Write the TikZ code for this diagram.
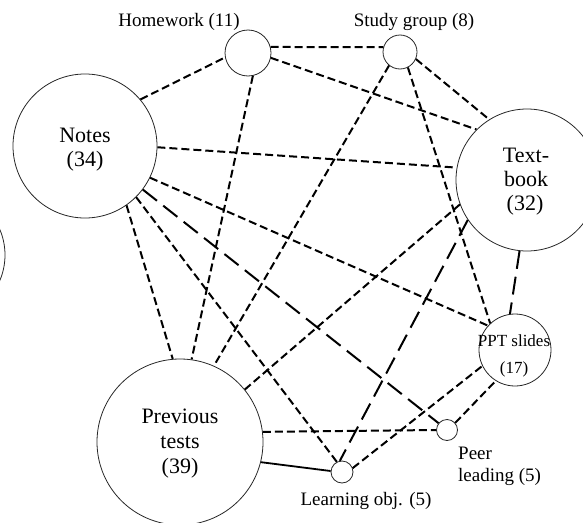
\documentclass[tikz,border=0pt]{standalone}
\usepackage{fontspec}
\setmainfont{Liberation Serif}
\begin{document}
\begin{tikzpicture}[x=1pt,y=-1pt,
  circ/.style={circle,draw=black!85,line width=0.8pt,inner sep=0pt},
  big/.style={font=\fontsize{22}{24.5}\selectfont,inner sep=0pt,anchor=base},
  sd/.style={line width=2pt,dash pattern=on 8pt off 4pt},
  ld/.style={line width=2pt,dash pattern=on 18pt off 8pt},
  sl/.style={line width=1.8pt},
  lab/.style={font=\fontsize{19}{21}\selectfont,inner sep=0pt,anchor=base}]
\useasboundingbox (0,0) rectangle (583,522);
\clip (0,0) rectangle (583,522);
% circles
\node[circ,minimum size=144pt] (notes) at (85,146) {};
\node[circ,minimum size=46pt] (hw) at (248,53) {};
\node[circ,minimum size=34pt] (sg) at (400,52) {};
\node[circ,minimum size=142pt] (tb) at (527,180) {};
\node[circ,minimum size=72pt] (ppt) at (515,350) {};
\node[circ,minimum size=166pt] (prev) at (180,442) {};
\node[circ,minimum size=21pt] (peer) at (447,430) {};
\node[circ,minimum size=22pt] (lo) at (342,472) {};
\node[circ,minimum size=130pt] (left) at (-60,255) {};
% texts inside circles
\node[big] (notes1) at (85,142) {Notes};
\node[big] (notes2) at (85,166) {(34)};
\node[big] (tb1) at (526,162) {Text-};
\node[big] (tb2) at (526,186) {book};
\node[big] (tb3) at (525,210) {(32)};
\node[big] (prev1) at (180,423) {Previous};
\node[big] (prev2) at (180,448) {tests};
\node[big] (prev3) at (180,473) {(39)};
\node[font=\fontsize{17}{20}\selectfont,inner sep=0pt,anchor=base] (ppt1) at (514,346) {PPT slides};
\node[font=\fontsize{17}{20}\selectfont,inner sep=0pt,anchor=base] (ppt2) at (514,373) {(17)};
% labels
\node[lab] (hwl) at (179,27) {Homework (11)};
\node[lab] (sgl) at (414,27) {Study group (8)};
\node[lab,anchor=base west] (peerl1) at (458,459) {Peer};
\node[lab,anchor=base west] (peerl2) at (458,481) {leading (5)};
\node[lab] (lol) at (366,505) {Learning obj. (5)};
% connectors
\draw[sd] (notes.40) -- (hw.191);
\draw[sd] (hw.15) -- (sg.164);
\draw[sd] (hw.-12) -- (tb.135);
\draw[sd] (hw.-78) -- (prev.82);
\draw[sd] (notes.-1) -- (tb.170);
\draw[sd] (notes.-26) -- (ppt.138);
\draw[ld] (notes.-37) -- (peer.141);
\draw[sd] (notes.-45) -- (lo.117);
\draw[sd] (notes.-55) -- (prev.95);
\draw[sd] (sg.-24) -- (tb.122);
\draw[sd] (sg.231) -- (prev.66);
\draw[sd] (sg.-63) -- (ppt.133);
\draw[ld] (tb.264) -- (ppt.98);
\draw[sd] (tb.200) -- (prev.39);
\draw[ld] (tb.214) -- (lo.101);
\draw[sd] (prev.7) -- (peer.180);
\draw[sl] (prev.-14) -- (lo.175);
\draw[sd] (lo.20) -- (ppt.206);
\draw[sd] (peer.41) -- (ppt.238);
\end{tikzpicture}
\end{document}
